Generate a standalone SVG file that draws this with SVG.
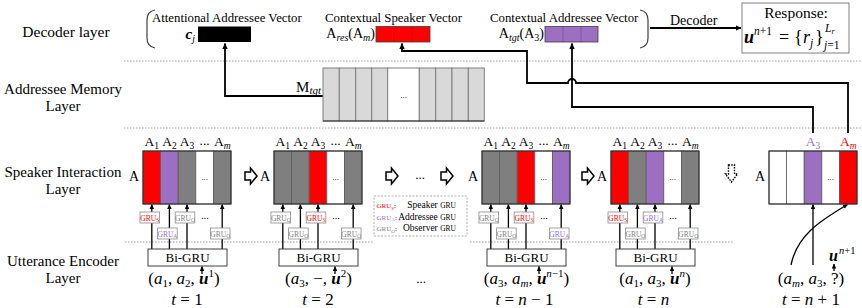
<svg xmlns="http://www.w3.org/2000/svg" width="862" height="308" viewBox="0 0 862 308">
<style>
text{font-family:"Liberation Serif","Times New Roman",serif;fill:#000}
.lay{font-size:15.5px;text-anchor:middle}
.lay2{font-size:15px;text-anchor:middle}
.cap{font-size:12.8px}
.mid{text-anchor:middle}
.end{text-anchor:end}
.i{font-style:italic}
.bi{font-style:italic;font-weight:bold}
.m{font-size:17px;text-anchor:middle}
.s{font-size:11px}
.hl{font-size:13.5px;text-anchor:middle}
.hs{font-size:9.5px}
.g{font-size:7.5px;text-anchor:middle}
.gs{font-size:5.5px}
.sep{stroke:#a0a0a0;stroke-width:1;stroke-dasharray:1.5 1.5;fill:none}
.con{stroke:#000;stroke-width:1.8;fill:none}
.ar{stroke:#000;stroke-width:1.3;fill:none}
.cell{stroke:#5a5a5a;stroke-width:0.8}
.box{fill:none;stroke:#262626;stroke-width:1}
.gray{fill:#7f7f7f}.red{fill:#ff0000}.pur{fill:#9d6fc3}.wht{fill:#fff}
.gb{fill:#fff;stroke:#8c8c8c;stroke-width:0.8}
.gS{fill:#ff0000}.gA{fill:#9d6fc3}.gO{fill:#808080}
.bigru{fill:#fff;stroke:#404040;stroke-width:1}
.harrow{fill:#fff;stroke:#000;stroke-width:1.5}
.mem{fill:#d9d9d9;stroke:#7f7f7f;stroke-width:1}
.div{stroke:#000;stroke-opacity:0.25;stroke-width:0.8}
</style>
<defs>
<marker id="ah" viewBox="0 0 10 10" refX="9" refY="5" markerWidth="5" markerHeight="5" markerUnits="userSpaceOnUse" orient="auto"><path d="M0,0.5 L10,5 L0,9.5 z" fill="#000"/></marker>
<marker id="ahb" viewBox="0 0 10 10" refX="9" refY="5" markerWidth="6" markerHeight="6" markerUnits="userSpaceOnUse" orient="auto"><path d="M0,0.5 L10,5 L0,9.5 z" fill="#000"/></marker>
</defs>
<rect width="862" height="308" fill="#fff"/>

<g id="layer-labels">
<text class="lay" x="66" y="37">Decoder layer</text>
<text class="lay2" x="63" y="94">Addressee Memory<tspan x="63" dy="17">Layer</tspan></text>
<text class="lay2" x="63" y="177">Speaker Interaction<tspan x="63" dy="17">Layer</tspan></text>
<text class="lay2" x="63" y="266">Utterance Encoder<tspan x="63" dy="17">Layer</tspan></text>
</g>

<g id="separators">
<line class="sep" x1="124" y1="61" x2="862" y2="61"/>
<line class="sep" x1="124" y1="128" x2="862" y2="128"/>
<line class="sep" x1="125" y1="242" x2="373" y2="242"/>
<line class="sep" x1="470" y1="242" x2="733" y2="242"/>
</g>

<g id="connectors">
<path class="con" d="M323,96 H225 V43.5" marker-end="url(#ahb)"/>
<path class="con" d="M848,133 V83 H576 A4 4 0 0 0 568 83 H527 V51 H402 V43.5" marker-end="url(#ahb)"/>
<path class="con" d="M813,133 V107 H572 V43.5" marker-end="url(#ahb)"/>
<path class="con" d="M650,28 H741" marker-end="url(#ahb)"/>
<g class="ar">
<path d="M151.8,249 V204.5" marker-end="url(#ah)"/><path d="M169.4,249 V204.5" marker-end="url(#ah)"/><path d="M187,249 V204.5" marker-end="url(#ah)"/><path d="M222.2,249 V204.5" marker-end="url(#ah)"/><path d="M202,274 V266.5" marker-end="url(#ah)"/>
<path d="M282.8,249 V204.5" marker-end="url(#ah)"/><path d="M300.4,249 V204.5" marker-end="url(#ah)"/><path d="M318,249 V204.5" marker-end="url(#ah)"/><path d="M353.2,249 V204.5" marker-end="url(#ah)"/><path d="M335,274 V266.5" marker-end="url(#ah)"/>
<path d="M490.8,249 V204.5" marker-end="url(#ah)"/><path d="M508.4,249 V204.5" marker-end="url(#ah)"/><path d="M526,249 V204.5" marker-end="url(#ah)"/><path d="M561.2,249 V204.5" marker-end="url(#ah)"/><path d="M539,274 V266.5" marker-end="url(#ah)"/>
<path d="M619.8,249 V204.5" marker-end="url(#ah)"/><path d="M637.4,249 V204.5" marker-end="url(#ah)"/><path d="M655,249 V204.5" marker-end="url(#ah)"/><path d="M690.2,249 V204.5" marker-end="url(#ah)"/><path d="M672,274 V266.5" marker-end="url(#ah)"/>
<path d="M813,265 V204.5" marker-end="url(#ah)"/>
<path d="M791,265 C797,236 818,222 847.5,204.5" marker-end="url(#ah)"/>
<path d="M834,271 V264" marker-end="url(#ah)"/>
</g>
</g>

<g id="decoder">
<path d="M155,10 C149,11 147,14 147,20 L147,38 C147,44 149,47 155,48" fill="none" stroke="#404040" stroke-width="1.2"/>
<path d="M640,10 C646,11 648,14 648,20 L648,38 C648,44 646,47 640,48" fill="none" stroke="#404040" stroke-width="1.2"/>
<text class="cap" x="152" y="22">Attentional Addressee Vector</text>
<text class="cap" x="325" y="22">Contextual Speaker Vector</text>
<text class="cap" x="490" y="22">Contextual Addressee Vector</text>
<text class="end" x="195" y="39" style="font-size:15px"><tspan class="bi">c</tspan><tspan class="i" style="font-size:10px" dy="3">j</tspan></text>
<rect x="198" y="26.5" width="53" height="15.5" fill="#000"/>
<text class="end" x="375" y="38" style="font-size:14px">A<tspan class="i" style="font-size:10px" dy="2.5">res</tspan><tspan dy="-2.5">(A</tspan><tspan class="i" style="font-size:10px" dy="2.5">m</tspan><tspan dy="-2.5">)</tspan></text>
<rect x="376" y="26.5" width="54" height="15.5" class="red" stroke="#404040" stroke-width="0.8"/>
<line class="div" x1="394" y1="26.5" x2="394" y2="42"/><line class="div" x1="412" y1="26.5" x2="412" y2="42"/>
<text class="end" x="544" y="38" style="font-size:14px">A<tspan class="i" style="font-size:10px" dy="2.5">tgt</tspan><tspan dy="-2.5">(A</tspan><tspan style="font-size:10px" dy="2.5">3</tspan><tspan dy="-2.5">)</tspan></text>
<rect x="545" y="26.5" width="53" height="15.5" class="pur" stroke="#404040" stroke-width="0.8"/>
<line class="div" x1="563" y1="26.5" x2="563" y2="42"/><line class="div" x1="581" y1="26.5" x2="581" y2="42"/>
<text x="670" y="25" style="font-size:14px">Decoder</text>
</g>

<g id="response">
<rect x="742" y="3" width="107" height="50" fill="#fff" stroke="#808080" stroke-width="1"/>
<text class="mid" x="796" y="18" style="font-size:15.5px">Response:</text>
<text x="744" y="43" style="font-size:18px" class="bi">u</text>
<text x="754" y="35" style="font-size:11.5px"><tspan class="i">n</tspan>+1</text>
<text x="779" y="43" style="font-size:18px">=</text>
<text x="794" y="43" style="font-size:18px">{</text>
<text x="803" y="43" style="font-size:18px" class="i">r</text>
<text x="810" y="46.5" style="font-size:11.5px" class="i">j</text>
<text x="815" y="43" style="font-size:18px">}</text>
<text x="825" y="32" style="font-size:11.5px" class="i">L</text>
<text x="831.5" y="34" style="font-size:8px" class="i">r</text>
<text x="824" y="48.5" style="font-size:11.5px"><tspan class="i">j</tspan>=1</text>
</g>

<g id="memory">
<text class="end" x="321" y="92" style="font-size:15px">M<tspan class="i" style="font-size:11px" dy="2">tgt</tspan></text>
<rect class="mem" x="323" y="68" width="16.3" height="53"/>
<rect class="mem" x="339.3" y="68" width="16.4" height="53"/>
<rect class="mem" x="355.7" y="68" width="16" height="53"/>
<rect class="mem" x="371.7" y="68" width="16" height="53"/>
<rect class="mem" x="387.7" y="68" width="31.6" height="53" style="fill:#fff"/>
<rect class="mem" x="419.3" y="68" width="16.4" height="53"/>
<rect class="mem" x="435.7" y="68" width="16.3" height="53"/>
<rect class="mem" x="452" y="68" width="16.3" height="53"/>
<rect class="mem" x="468.3" y="68" width="16" height="53"/>
<line x1="323" y1="121" x2="484.3" y2="121" stroke="#262626" stroke-width="1.2"/>
<text class="mid" x="403.5" y="98" style="font-size:9px">...</text>
</g>

<g id="block1" transform="translate(143,0)">
<text class="hl" x="8.8" y="146">A<tspan class="hs" dy="3">1</tspan></text>
<text class="hl" x="26.4" y="146">A<tspan class="hs" dy="3">2</tspan></text>
<text class="hl" x="44" y="146">A<tspan class="hs" dy="3">3</tspan></text>
<text class="hl" x="61.6" y="145">...</text>
<text class="hl" x="79.2" y="146">A<tspan class="hs i" dy="3">m</tspan></text>
<text class="hl" x="-9" y="181" style="font-size:14px">A</text>
<rect class="cell red" x="0" y="151" width="17.6" height="53"/>
<rect class="cell pur" x="17.6" y="151" width="17.6" height="53"/>
<rect class="cell gray" x="35.2" y="151" width="17.6" height="53"/>
<rect class="cell wht" x="52.8" y="151" width="17.6" height="53"/>
<rect class="cell gray" x="70.4" y="151" width="17.6" height="53"/>
<rect class="box" x="0" y="151" width="88" height="53"/>
<text class="mid" x="61.6" y="180" style="font-size:9px">...</text>
<rect class="gb" x="-3" y="212" width="19.6" height="11"/><text class="g gS" x="6.8" y="220.5">GRU<tspan class="gs" dy="1.5">S</tspan></text>
<rect class="gb" x="14.6" y="228" width="19.6" height="11"/><text class="g gA" x="24.4" y="236.5">GRU<tspan class="gs" dy="1.5">A</tspan></text>
<rect class="gb" x="32.2" y="212" width="19.6" height="11"/><text class="g gO" x="42" y="220.5">GRU<tspan class="gs" dy="1.5">O</tspan></text>
<text class="mid" x="62" y="219" style="font-size:10px">...</text>
<rect class="gb" x="67.4" y="228" width="19.6" height="11"/><text class="g gO" x="77.2" y="236.5">GRU<tspan class="gs" dy="1.5">O</tspan></text>
<rect class="bigru" x="5" y="249" width="79" height="17"/>
<text class="mid" x="44.5" y="261.5" style="font-size:13px">Bi-GRU</text>
<text class="m" x="41" y="284">(<tspan class="i">a</tspan><tspan class="s" dy="3">1</tspan><tspan dy="-3">, </tspan><tspan class="i">a</tspan><tspan class="s" dy="3">2</tspan><tspan dy="-3">, </tspan><tspan class="bi">u</tspan><tspan class="s" dy="-7">1</tspan><tspan dy="7">)</tspan></text>
<text class="m" x="44" y="305"><tspan class="i">t</tspan> = 1</text>
</g>

<g id="block2" transform="translate(274,0)">
<text class="hl" x="8.8" y="146">A<tspan class="hs" dy="3">1</tspan></text>
<text class="hl" x="26.4" y="146">A<tspan class="hs" dy="3">2</tspan></text>
<text class="hl" x="44" y="146">A<tspan class="hs" dy="3">3</tspan></text>
<text class="hl" x="61.6" y="145">...</text>
<text class="hl" x="79.2" y="146">A<tspan class="hs i" dy="3">m</tspan></text>
<text class="hl" x="-9" y="181" style="font-size:14px">A</text>
<rect class="cell gray" x="0" y="151" width="17.6" height="53"/>
<rect class="cell gray" x="17.6" y="151" width="17.6" height="53"/>
<rect class="cell red" x="35.2" y="151" width="17.6" height="53"/>
<rect class="cell wht" x="52.8" y="151" width="17.6" height="53"/>
<rect class="cell gray" x="70.4" y="151" width="17.6" height="53"/>
<rect class="box" x="0" y="151" width="88" height="53"/>
<text class="mid" x="61.6" y="180" style="font-size:9px">...</text>
<rect class="gb" x="-3" y="212" width="19.6" height="11"/><text class="g gO" x="6.8" y="220.5">GRU<tspan class="gs" dy="1.5">O</tspan></text>
<rect class="gb" x="14.6" y="228" width="19.6" height="11"/><text class="g gO" x="24.4" y="236.5">GRU<tspan class="gs" dy="1.5">O</tspan></text>
<rect class="gb" x="32.2" y="212" width="19.6" height="11"/><text class="g gS" x="42" y="220.5">GRU<tspan class="gs" dy="1.5">S</tspan></text>
<text class="mid" x="62" y="219" style="font-size:10px">...</text>
<rect class="gb" x="67.4" y="228" width="19.6" height="11"/><text class="g gO" x="77.2" y="236.5">GRU<tspan class="gs" dy="1.5">O</tspan></text>
<rect class="bigru" x="5" y="249" width="79" height="17"/>
<text class="mid" x="44.5" y="261.5" style="font-size:13px">Bi-GRU</text>
<text class="m" x="44.5" y="284">(<tspan class="i">a</tspan><tspan class="s" dy="3">3</tspan><tspan dy="-3">, −, </tspan><tspan class="bi">u</tspan><tspan class="s" dy="-7">2</tspan><tspan dy="7">)</tspan></text>
<text class="m" x="44" y="305"><tspan class="i">t</tspan> = 2</text>
</g>

<g id="block3" transform="translate(482,0)">
<text class="hl" x="8.8" y="146">A<tspan class="hs" dy="3">1</tspan></text>
<text class="hl" x="26.4" y="146">A<tspan class="hs" dy="3">2</tspan></text>
<text class="hl" x="44" y="146">A<tspan class="hs" dy="3">3</tspan></text>
<text class="hl" x="61.6" y="145">...</text>
<text class="hl" x="79.2" y="146">A<tspan class="hs i" dy="3">m</tspan></text>
<text class="hl" x="-9" y="181" style="font-size:14px">A</text>
<rect class="cell gray" x="0" y="151" width="17.6" height="53"/>
<rect class="cell gray" x="17.6" y="151" width="17.6" height="53"/>
<rect class="cell red" x="35.2" y="151" width="17.6" height="53"/>
<rect class="cell wht" x="52.8" y="151" width="17.6" height="53"/>
<rect class="cell pur" x="70.4" y="151" width="17.6" height="53"/>
<rect class="box" x="0" y="151" width="88" height="53"/>
<text class="mid" x="61.6" y="180" style="font-size:9px">...</text>
<rect class="gb" x="-3" y="212" width="19.6" height="11"/><text class="g gO" x="6.8" y="220.5">GRU<tspan class="gs" dy="1.5">O</tspan></text>
<rect class="gb" x="14.6" y="228" width="19.6" height="11"/><text class="g gO" x="24.4" y="236.5">GRU<tspan class="gs" dy="1.5">O</tspan></text>
<rect class="gb" x="32.2" y="212" width="19.6" height="11"/><text class="g gS" x="42" y="220.5">GRU<tspan class="gs" dy="1.5">S</tspan></text>
<text class="mid" x="62" y="219" style="font-size:10px">...</text>
<rect class="gb" x="67.4" y="228" width="19.6" height="11"/><text class="g gA" x="77.2" y="236.5">GRU<tspan class="gs" dy="1.5">A</tspan></text>
<rect class="bigru" x="5" y="249" width="79" height="17"/>
<text class="mid" x="44.5" y="261.5" style="font-size:13px">Bi-GRU</text>
<text class="m" x="44.5" y="284">(<tspan class="i">a</tspan><tspan class="s" dy="3">3</tspan><tspan dy="-3">, </tspan><tspan class="i">a</tspan><tspan class="s i" dy="3">m</tspan><tspan dy="-3">, </tspan><tspan class="bi">u</tspan><tspan class="s" dy="-7"><tspan class="i">n</tspan>−1</tspan><tspan dy="7">)</tspan></text>
<text class="m" x="42.5" y="305"><tspan class="i">t</tspan> = <tspan class="i">n</tspan> − 1</text>
</g>

<g id="block4" transform="translate(611,0)">
<text class="hl" x="8.8" y="146">A<tspan class="hs" dy="3">1</tspan></text>
<text class="hl" x="26.4" y="146">A<tspan class="hs" dy="3">2</tspan></text>
<text class="hl" x="44" y="146">A<tspan class="hs" dy="3">3</tspan></text>
<text class="hl" x="61.6" y="145">...</text>
<text class="hl" x="79.2" y="146">A<tspan class="hs i" dy="3">m</tspan></text>
<text class="hl" x="-9" y="181" style="font-size:14px">A</text>
<rect class="cell red" x="0" y="151" width="17.6" height="53"/>
<rect class="cell gray" x="17.6" y="151" width="17.6" height="53"/>
<rect class="cell pur" x="35.2" y="151" width="17.6" height="53"/>
<rect class="cell wht" x="52.8" y="151" width="17.6" height="53"/>
<rect class="cell gray" x="70.4" y="151" width="17.6" height="53"/>
<rect class="box" x="0" y="151" width="88" height="53"/>
<text class="mid" x="61.6" y="180" style="font-size:9px">...</text>
<rect class="gb" x="-3" y="212" width="19.6" height="11"/><text class="g gS" x="6.8" y="220.5">GRU<tspan class="gs" dy="1.5">S</tspan></text>
<rect class="gb" x="14.6" y="228" width="19.6" height="11"/><text class="g gO" x="24.4" y="236.5">GRU<tspan class="gs" dy="1.5">O</tspan></text>
<rect class="gb" x="32.2" y="212" width="19.6" height="11"/><text class="g gA" x="42" y="220.5">GRU<tspan class="gs" dy="1.5">A</tspan></text>
<text class="mid" x="62" y="219" style="font-size:10px">...</text>
<rect class="gb" x="67.4" y="228" width="19.6" height="11"/><text class="g gO" x="77.2" y="236.5">GRU<tspan class="gs" dy="1.5">O</tspan></text>
<rect class="bigru" x="5" y="249" width="79" height="17"/>
<text class="mid" x="44.5" y="261.5" style="font-size:13px">Bi-GRU</text>
<text class="m" x="44" y="284">(<tspan class="i">a</tspan><tspan class="s" dy="3">1</tspan><tspan dy="-3">, </tspan><tspan class="i">a</tspan><tspan class="s" dy="3">3</tspan><tspan dy="-3">, </tspan><tspan class="bi">u</tspan><tspan class="s i" dy="-7">n</tspan><tspan dy="7">)</tspan></text>
<text class="m" x="42.5" y="305"><tspan class="i">t</tspan> = <tspan class="i">n</tspan></text>
</g>

<g id="block5" transform="translate(769,0)">
<text class="hl" x="44" y="146" style="fill:#9d6fc3">A<tspan class="hs" dy="3">3</tspan></text>
<text class="hl" x="79.2" y="146" style="fill:#ff0000">A<tspan class="hs i" dy="3">m</tspan></text>
<text class="hl" x="-9" y="181" style="font-size:14px">A</text>
<rect class="cell wht" x="0" y="151" width="17.6" height="53"/>
<rect class="cell wht" x="17.6" y="151" width="17.6" height="53"/>
<rect class="cell pur" x="35.2" y="151" width="17.6" height="53"/>
<rect class="cell wht" x="52.8" y="151" width="17.6" height="53"/>
<rect class="cell red" x="70.4" y="151" width="17.6" height="53"/>
<rect class="box" x="0" y="151" width="88" height="53"/>
<text class="mid" x="61.6" y="180" style="font-size:9px">...</text>
<text x="60" y="261" style="font-size:16px" class="bi">u</text>
<text x="70" y="254" style="font-size:10.5px"><tspan class="i">n</tspan>+1</text>
<text class="m" x="42" y="284">(<tspan class="i">a</tspan><tspan class="s i" dy="3">m</tspan><tspan dy="-3">, </tspan><tspan class="i">a</tspan><tspan class="s" dy="3">3</tspan><tspan dy="-3">, ?)</tspan></text>
<text class="m" x="42" y="305"><tspan class="i">t</tspan> = <tspan class="i">n</tspan> + 1</text>
</g>

<g id="flow-arrows">
<polygon class="harrow" points="245,172 250.5,172 250.5,168 257,176 250.5,184 250.5,180 245,180"/>
<polygon class="harrow" points="386,172 391.5,172 391.5,168 398,176 391.5,184 391.5,180 386,180"/>
<text class="mid" x="420" y="179" style="font-size:13px">...</text>
<polygon class="harrow" points="441,172 446.5,172 446.5,168 453,176 446.5,184 446.5,180 441,180"/>
<polygon class="harrow" points="582,172 587.5,172 587.5,168 594,176 587.5,184 587.5,180 582,180"/>
<polygon points="728.5,165 734.5,165 734.5,174 737.5,174 731.5,182 725.5,174 728.5,174" fill="#fff" stroke="#000" stroke-width="1.4" stroke-dasharray="1.5 1.2"/>
<text class="mid" x="421" y="283" style="font-size:13px">...</text>
</g>

<g id="legend">
<rect x="374" y="196" width="93" height="40" fill="#fff" stroke="#a6a6a6" stroke-width="0.9" stroke-dasharray="2 1.5"/>
<text x="376.5" y="208" style="font-size:7px" class="gS">GRU<tspan style="font-size:5px" dy="1.5">S</tspan><tspan dy="-1.5" style="fill:#000">:</tspan></text>
<text class="end" x="456" y="208" style="font-size:9.5px">Speaker <tspan style="font-size:7.5px">GRU</tspan></text>
<text x="376.5" y="219.5" style="font-size:7px" class="gA">GRU<tspan style="font-size:5px" dy="1.5">A</tspan><tspan dy="-1.5" style="fill:#000">:</tspan></text>
<text class="end" x="456" y="219.5" style="font-size:9.5px">Addressee <tspan style="font-size:7.5px">GRU</tspan></text>
<text x="376.5" y="231" style="font-size:7px" class="gO">GRU<tspan style="font-size:5px" dy="1.5">O</tspan><tspan dy="-1.5" style="fill:#000">:</tspan></text>
<text class="end" x="456" y="231" style="font-size:9.5px">Observer <tspan style="font-size:7.5px">GRU</tspan></text>
</g>
</svg>
